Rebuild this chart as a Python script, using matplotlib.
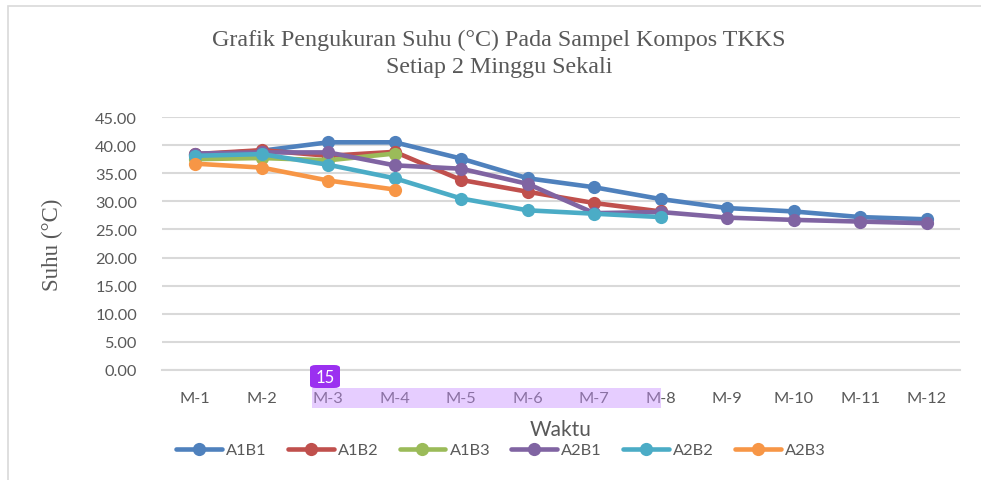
import matplotlib
matplotlib.use("Agg")
import matplotlib.pyplot as plt
from matplotlib.patches import Rectangle, FancyBboxPatch
import numpy as np

categories = ["M-1", "M-2", "M-3", "M-4", "M-5", "M-6", "M-7", "M-8", "M-9", "M-10", "M-11", "M-12"]
A1B1 = [38.3, 39.0, 40.5, 40.5, 37.6, 34.1, 32.5, 30.4, 28.8, 28.2, 27.2, 26.8]
A1B2 = [38.4, 39.1, 38.1, 38.8, 33.8, 31.7, 29.7, 28.2]
A1B3 = [37.5, 37.7, 37.3, 38.5]
A2B1 = [38.5, 38.7, 38.7, 36.4, 35.8, 33.1, 27.9, 28.1, 27.1, 26.7, 26.4, 26.1]
A2B2 = [38.1, 38.4, 36.5, 34.1, 30.5, 28.4, 27.8, 27.2]
A2B3 = [36.7, 36.0, 33.7, 32.1]
series_names = ["A1B1", "A1B2", "A1B3", "A2B1", "A2B2", "A2B3"]
series_vals = [A1B1, A1B2, A1B3, A2B1, A2B2, A2B3]
colors = ["#4F81BD", "#C0504D", "#9BBB59", "#8064A2", "#4BACC6", "#F79646"]
yticks = [0, 5, 10, 15, 20, 25, 30, 35, 40, 45]

W, H = 981, 481
fig = plt.figure(figsize=(W / 100, H / 100), dpi=100)
fig.patch.set_facecolor("white")

def fx(px):
    return px / W

def fy(py):
    return 1 - py / H

# outer chart border
fig.add_artist(Rectangle((fx(8), fy(490)), fx(990 - 8), (490 - 7) / H, transform=fig.transFigure,
                         fill=False, edgecolor="#d9d9d9", linewidth=1.2))

ax = fig.add_axes([fx(162), fy(371), fx(960 - 162), (371 - 118) / H])
x = np.arange(len(categories))
for name, vals, c in zip(series_names, series_vals, colors):
    ax.plot(x[:len(vals)], vals, color=c, linewidth=3.3, marker="o", markersize=9.5,
            markeredgewidth=0, label=name, solid_capstyle="round", solid_joinstyle="round")

ax.set_xlim(-0.5, len(categories) - 0.5)
ax.set_ylim(0, 45)
ax.set_yticks(yticks)
ax.set_yticklabels([f"{v:.2f}" for v in yticks])
ax.set_xticks(x)
ax.set_xticklabels(categories)
ax.grid(axis="y", color="#d9d9d9", linewidth=1.5)
ax.set_axisbelow(True)
for s in ["top", "right", "left"]:
    ax.spines[s].set_visible(False)
ax.spines["bottom"].set_color("#d9d9d9")
ax.spines["bottom"].set_linewidth(1.5)
ax.tick_params(axis="both", length=0, labelsize=11.8, labelcolor="#595959")
ax.tick_params(axis="y", pad=18)
ax.tick_params(axis="x", pad=15)
for lab in ax.get_xticklabels() + ax.get_yticklabels():
    lab.set_fontfamily("Lato")

ax.set_xlabel("Waktu", fontsize=15, color="#595959", family="Lato", labelpad=10)
fig.text(fx(52), fy(245), "Suhu (°C)", rotation=90, ha="center", va="center",
         fontsize=16.5, color="#595959", family="Liberation Serif")

fig.text(fx(499), fy(40), "Grafik Pengukuran Suhu (°C) Pada Sampel Kompos TKKS",
         ha="center", va="center", fontsize=17.3, color="#595959", family="Liberation Serif")
fig.text(fx(499), fy(68), "Setiap 2 Minggu Sekali",
         ha="center", va="center", fontsize=17.3, color="#595959", family="Liberation Serif")

leg = fig.legend(loc="center", bbox_to_anchor=(fx(501), fy(451)), ncol=6, frameon=False,
                 handlelength=2.8, handletextpad=0.25, columnspacing=1.3,
                 prop={"family": "Lato", "size": 11.8})
for t in leg.get_texts():
    t.set_color("#595959")

# selection highlight overlay
fig.add_artist(Rectangle((fx(312), fy(409)), fx(661 - 312), (409 - 389) / H, transform=fig.transFigure,
                         facecolor="#c890ff", alpha=0.45, edgecolor="none", zorder=5))
fig.add_artist(FancyBboxPatch((fx(310), fy(389)), fx(340 - 310), (389 - 366) / H,
                              boxstyle="round,pad=0,rounding_size=0.006", transform=fig.transFigure,
                              facecolor="#9b30f0", edgecolor="none", zorder=6))
fig.text(fx(325), fy(378), "15", ha="center", va="center", color="white", fontsize=12,
         family="Lato", zorder=7)

fig.savefig("out.png", dpi=100, facecolor="white")
